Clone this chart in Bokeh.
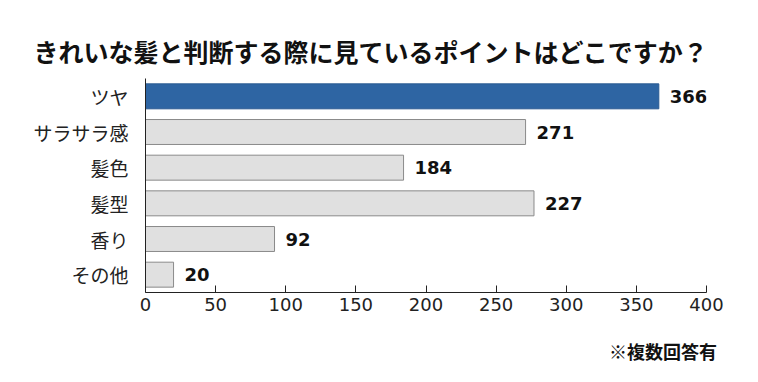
from bokeh.plotting import figure
from bokeh.models import ColumnDataSource, Title, FactorRange, FixedTicker, LinearAxis
from bokeh.core.properties import value
from bokeh.embed import file_html
from bokeh.resources import INLINE

title_text = "きれいな髪と判断する際に見ているポイントはどこですか？"
note_text = "※複数回答有"
categories = ["ツヤ", "サラサラ感", "髪色", "髪型", "香り", "その他"]
bar_values = [366, 271, 184, 277, 92, 20]
label_values = ["366", "271", "184", "227", "92", "20"]
colors = ["#2e65a3", "#e0e0e0", "#e0e0e0", "#e0e0e0", "#e0e0e0", "#e0e0e0"]
line_colors = ["#2a5a92", "#8a8a8a", "#8a8a8a", "#8a8a8a", "#8a8a8a", "#8a8a8a"]
x_ticks = [0, 50, 100, 150, 200, 250, 300, 350, 400]

src = ColumnDataSource(dict(cat=categories, val=bar_values, lab=label_values,
                            fill=colors, line=line_colors))

p = figure(width=742, height=366, output_backend="svg", toolbar_location=None,
           y_range=FactorRange(*reversed(categories), range_padding=0),
           x_range=(0, 400),
           min_border_left=145, min_border_right=36, min_border_top=78, min_border_bottom=70)

p.hbar(y="cat", right="val", left=0, height=0.7, source=src,
       fill_color="fill", line_color="line", line_width=1)

p.text(x="val", y="cat", text="lab", source=src, x_offset=11,
       text_baseline="middle", text_align="left",
       text_font=value("DejaVu Sans"), text_font_style="bold",
       text_font_size="18px", text_color="#111111")

p.outline_line_color = None
p.xgrid.grid_line_color = None
p.ygrid.grid_line_color = None

p.xaxis.ticker = FixedTicker(ticks=x_ticks)
p.xaxis.major_tick_in = 7
p.xaxis.major_tick_out = 0
p.xaxis.minor_tick_line_color = None
p.xaxis.axis_line_color = "#222222"
p.xaxis.major_tick_line_color = "#222222"
p.xaxis.major_label_text_font = "DejaVu Sans"
p.xaxis.major_label_text_font_size = "18px"
p.xaxis.major_label_text_color = "#222222"
p.xaxis.major_label_standoff = 5

p.yaxis.major_tick_line_color = None
p.yaxis.minor_tick_line_color = None
p.yaxis.axis_line_color = "#222222"
p.yaxis.major_label_text_font = "Noto Sans CJK JP"
p.yaxis.major_label_text_font_size = "19px"
p.yaxis.major_label_text_color = "#222222"
p.yaxis.major_label_standoff = 11

p.title = Title(text=title_text, align="left", offset=-112, standoff=20,
                text_font="Noto Sans CJK JP", text_font_style="bold",
                text_font_size="25px", text_color="#111111")

note_axis = LinearAxis(ticker=FixedTicker(ticks=[369]),
                       major_label_overrides={369: note_text},
                       axis_line_color=None, major_tick_line_color=None,
                       minor_tick_line_color=None, major_tick_in=0, major_tick_out=0,
                       major_label_standoff=24,
                       major_label_text_font="Noto Sans CJK JP",
                       major_label_text_font_style="bold",
                       major_label_text_font_size="18px",
                       major_label_text_color="#111111")
p.add_layout(note_axis, "below")

open("out.html", "w").write(file_html(p, INLINE))
